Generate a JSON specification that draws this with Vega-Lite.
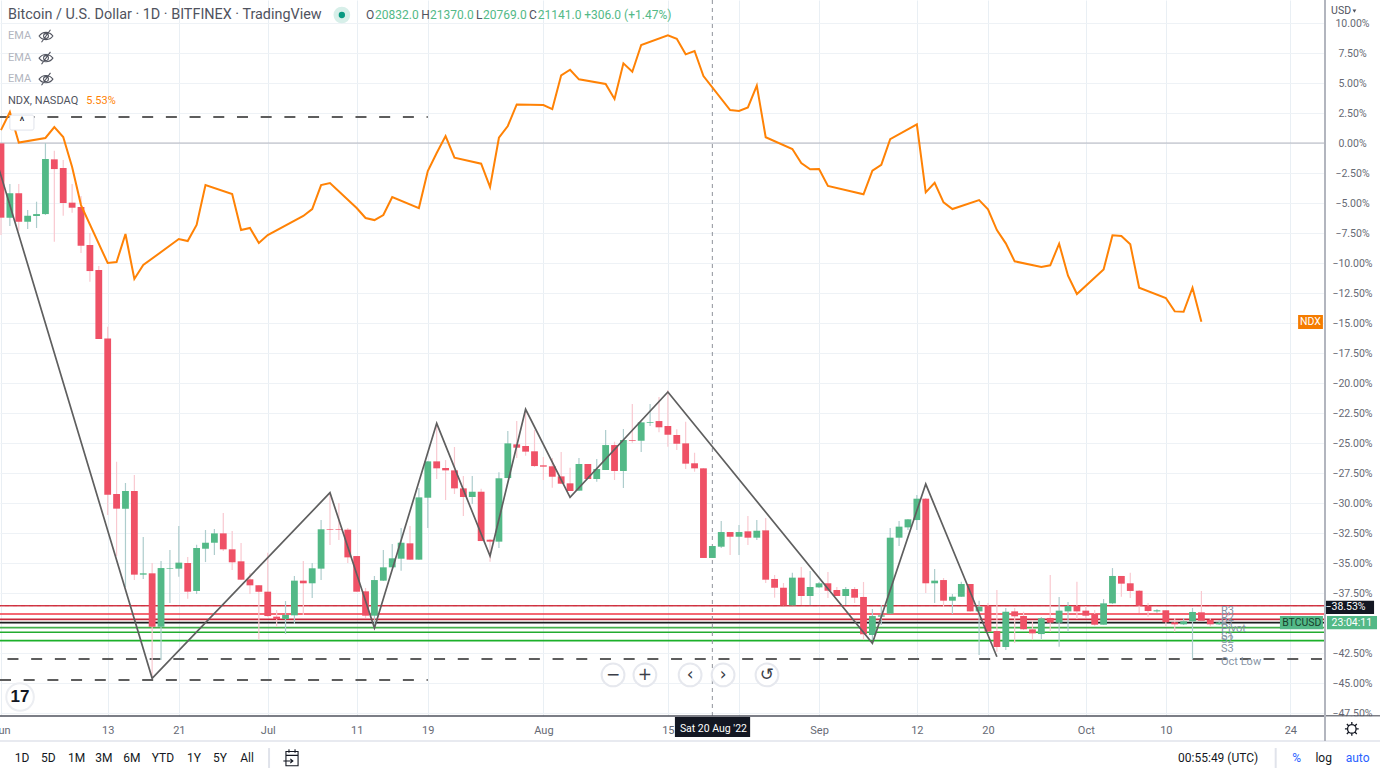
{
"$schema":"https://vega.github.io/schema/vega-lite/v6.json",
"autosize":{"type":"none"},
"padding":{"left":0,"top":0,"right":55,"bottom":60},
"width":1325,"height":716,
"background":"#ffffff",
"config":{"view":{"stroke":null},"font":"Roboto"},
"datasets":{
"candles":[
{"date":"2022-06-01","open":-0.03,"high":0,"low":-7.67,"close":-6.22},
{"date":"2022-06-02","open":-6.22,"high":-3.42,"low":-6.92,"close":-4.19},
{"date":"2022-06-03","open":-4.19,"high":-3.42,"low":-7.31,"close":-6.56},
{"date":"2022-06-04","open":-6.56,"high":-5.58,"low":-7.17,"close":-6.06},
{"date":"2022-06-05","open":-6.08,"high":-4.89,"low":-7.08,"close":-5.92},
{"date":"2022-06-06","open":-5.92,"high":0,"low":-6,"close":-1.33},
{"date":"2022-06-07","open":-1.36,"high":-0.64,"low":-8.22,"close":-2.17},
{"date":"2022-06-08","open":-2.08,"high":-1.42,"low":-6.06,"close":-5},
{"date":"2022-06-09","open":-4.97,"high":-3.42,"low":-5.81,"close":-5.39},
{"date":"2022-06-10","open":-5.33,"high":-4.42,"low":-9.17,"close":-8.56},
{"date":"2022-06-11","open":-8.5,"high":-7.5,"low":-11.56,"close":-10.67},
{"date":"2022-06-12","open":-10.58,"high":-10.25,"low":-16.33,"close":-16.33},
{"date":"2022-06-13","open":-16.28,"high":-15.31,"low":-31,"close":-29.31},
{"date":"2022-06-14","open":-29.25,"high":-26.56,"low":-34.42,"close":-30.47},
{"date":"2022-06-15","open":-30.47,"high":-28.33,"low":-37,"close":-29},
{"date":"2022-06-16","open":-29,"high":-27.67,"low":-36.42,"close":-35.97},
{"date":"2022-06-17","open":-35.97,"high":-32.83,"low":-36.33,"close":-35.86},
{"date":"2022-06-18","open":-35.86,"high":-35,"low":-44.58,"close":-40.31},
{"date":"2022-06-19","open":-40.31,"high":-34.83,"low":-43.08,"close":-35.42},
{"date":"2022-06-20","open":-35.47,"high":-33.92,"low":-38.33,"close":-35.42},
{"date":"2022-06-21","open":-35.47,"high":-31.92,"low":-36.14,"close":-34.97},
{"date":"2022-06-22","open":-35,"high":-34.5,"low":-37.97,"close":-37.39},
{"date":"2022-06-23","open":-37.33,"high":-33.47,"low":-37.58,"close":-33.75},
{"date":"2022-06-24","open":-33.81,"high":-32.25,"low":-34.92,"close":-33.31},
{"date":"2022-06-25","open":-33.31,"high":-32.17,"low":-34.33,"close":-32.53},
{"date":"2022-06-26","open":-32.53,"high":-30.83,"low":-34,"close":-33.86},
{"date":"2022-06-27","open":-33.86,"high":-32.33,"low":-35.58,"close":-34.94},
{"date":"2022-06-28","open":-34.86,"high":-33.33,"low":-36.42,"close":-36.39},
{"date":"2022-06-29","open":-36.36,"high":-35.83,"low":-37.58,"close":-36.86},
{"date":"2022-06-30","open":-36.86,"high":-36.83,"low":-41.42,"close":-37.39},
{"date":"2022-07-01","open":-37.39,"high":-34.14,"low":-39.47,"close":-39.42},
{"date":"2022-07-02","open":-39.47,"high":-38.92,"low":-40.31,"close":-39.67},
{"date":"2022-07-03","open":-39.67,"high":-38.17,"low":-40.92,"close":-39.33},
{"date":"2022-07-04","open":-39.36,"high":-36.08,"low":-40.08,"close":-36.47},
{"date":"2022-07-05","open":-36.47,"high":-34.83,"low":-39.33,"close":-36.69},
{"date":"2022-07-06","open":-36.69,"high":-35,"low":-37.92,"close":-35.44},
{"date":"2022-07-07","open":-35.47,"high":-31.42,"low":-36.42,"close":-32.19},
{"date":"2022-07-08","open":-32.17,"high":-29.17,"low":-33.5,"close":-32.22},
{"date":"2022-07-09","open":-32.17,"high":-30,"low":-33.08,"close":-32.22},
{"date":"2022-07-10","open":-32.22,"high":-32.08,"low":-35,"close":-34.53},
{"date":"2022-07-11","open":-34.42,"high":-34.42,"low":-37.39,"close":-37.39},
{"date":"2022-07-12","open":-37.36,"high":-37.08,"low":-39.58,"close":-39.39},
{"date":"2022-07-13","open":-39.39,"high":-36.08,"low":-40.42,"close":-36.42},
{"date":"2022-07-14","open":-36.47,"high":-33.92,"low":-36.5,"close":-35.36},
{"date":"2022-07-15","open":-35.36,"high":-33.42,"low":-35.36,"close":-34.61},
{"date":"2022-07-16","open":-34.64,"high":-32.08,"low":-35.64,"close":-33.31},
{"date":"2022-07-17","open":-33.36,"high":-31.92,"low":-34.75,"close":-34.72},
{"date":"2022-07-18","open":-34.72,"high":-28.75,"low":-34.75,"close":-29.53},
{"date":"2022-07-19","open":-29.56,"high":-26.5,"low":-32.08,"close":-26.53},
{"date":"2022-07-20","open":-26.53,"high":-23.33,"low":-28,"close":-27.11},
{"date":"2022-07-21","open":-27.08,"high":-26.42,"low":-29.75,"close":-27.28},
{"date":"2022-07-22","open":-27.28,"high":-25.33,"low":-29.25,"close":-28.78},
{"date":"2022-07-23","open":-28.78,"high":-27.75,"low":-31.08,"close":-29.5},
{"date":"2022-07-24","open":-29.5,"high":-27.75,"low":-30.08,"close":-29.06},
{"date":"2022-07-25","open":-29.06,"high":-28.81,"low":-33.17,"close":-33.17},
{"date":"2022-07-26","open":-33.06,"high":-33,"low":-34.89,"close":-33.22},
{"date":"2022-07-27","open":-33.22,"high":-27.44,"low":-33.75,"close":-27.94},
{"date":"2022-07-28","open":-27.92,"high":-24,"low":-27.92,"close":-25.03},
{"date":"2022-07-29","open":-25.11,"high":-23.17,"low":-26.25,"close":-25.39},
{"date":"2022-07-30","open":-25.25,"high":-22.25,"low":-26.06,"close":-25.72},
{"date":"2022-07-31","open":-25.69,"high":-23.92,"low":-27,"close":-26.92},
{"date":"2022-08-01","open":-26.86,"high":-26.17,"low":-28.08,"close":-26.97},
{"date":"2022-08-02","open":-26.94,"high":-26.25,"low":-28.72,"close":-27.81},
{"date":"2022-08-03","open":-27.78,"high":-25.75,"low":-28.42,"close":-28.39},
{"date":"2022-08-04","open":-28.36,"high":-27.06,"low":-29,"close":-29},
{"date":"2022-08-05","open":-28.97,"high":-26.25,"low":-29,"close":-26.75},
{"date":"2022-08-06","open":-26.75,"high":-26.75,"low":-28,"close":-28},
{"date":"2022-08-07","open":-28,"high":-26.33,"low":-28.22,"close":-27.17},
{"date":"2022-08-08","open":-27.25,"high":-23.92,"low":-27.25,"close":-25.17},
{"date":"2022-08-09","open":-25.17,"high":-24.89,"low":-28.08,"close":-27.33},
{"date":"2022-08-10","open":-27.33,"high":-23.83,"low":-28.75,"close":-24.75},
{"date":"2022-08-11","open":-24.75,"high":-21.75,"low":-24.97,"close":-24.81},
{"date":"2022-08-12","open":-24.81,"high":-23.25,"low":-25.75,"close":-23.28},
{"date":"2022-08-13","open":-23.31,"high":-21.75,"low":-23.58,"close":-23.25},
{"date":"2022-08-14","open":-23.17,"high":-21.17,"low":-24.11,"close":-23.69},
{"date":"2022-08-15","open":-23.58,"high":-20.58,"low":-25.31,"close":-24.31},
{"date":"2022-08-16","open":-24.33,"high":-23.86,"low":-25.58,"close":-25.06},
{"date":"2022-08-17","open":-25.03,"high":-23.22,"low":-27.17,"close":-26.72},
{"date":"2022-08-18","open":-26.69,"high":-25.81,"low":-27.39,"close":-27.11},
{"date":"2022-08-19","open":-27.11,"high":-27.08,"low":-34.58,"close":-34.58},
{"date":"2022-08-20","open":-34.58,"high":-33.58,"low":-34.58,"close":-33.58},
{"date":"2022-08-21","open":-33.64,"high":-31.5,"low":-33.75,"close":-32.42},
{"date":"2022-08-22","open":-32.42,"high":-32.42,"low":-34.33,"close":-32.81},
{"date":"2022-08-23","open":-32.81,"high":-31.83,"low":-34.33,"close":-32.42},
{"date":"2022-08-24","open":-32.36,"high":-31.08,"low":-33.5,"close":-32.89},
{"date":"2022-08-25","open":-32.89,"high":-31.42,"low":-33.08,"close":-32.31},
{"date":"2022-08-26","open":-32.28,"high":-31.25,"low":-36.67,"close":-36.39},
{"date":"2022-08-27","open":-36.33,"high":-36,"low":-37.89,"close":-37.06},
{"date":"2022-08-28","open":-37.06,"high":-36.67,"low":-38.53,"close":-38.53},
{"date":"2022-08-29","open":-38.53,"high":-35.81,"low":-38.53,"close":-36.22},
{"date":"2022-08-30","open":-36.22,"high":-35.33,"low":-38.5,"close":-37.75},
{"date":"2022-08-31","open":-37.75,"high":-35.67,"low":-38.5,"close":-37},
{"date":"2022-09-01","open":-37.03,"high":-36.58,"low":-37.08,"close":-36.69},
{"date":"2022-09-02","open":-36.69,"high":-35.75,"low":-37.92,"close":-37.31},
{"date":"2022-09-03","open":-37.25,"high":-37,"low":-37.75,"close":-37.75},
{"date":"2022-09-04","open":-37.75,"high":-37,"low":-38.5,"close":-37.17},
{"date":"2022-09-05","open":-37.17,"high":-37,"low":-38.33,"close":-37.89},
{"date":"2022-09-06","open":-37.83,"high":-36.58,"low":-41.42,"close":-40.94},
{"date":"2022-09-07","open":-41,"high":-38.83,"low":-41.42,"close":-39.42},
{"date":"2022-09-08","open":-39.47,"high":-38.5,"low":-40.17,"close":-39.36},
{"date":"2022-09-09","open":-39.22,"high":-32.08,"low":-39.22,"close":-32.89},
{"date":"2022-09-10","open":-32.89,"high":-31.5,"low":-33.58,"close":-31.97},
{"date":"2022-09-11","open":-32.03,"high":-31.33,"low":-32.25,"close":-31.36},
{"date":"2022-09-12","open":-31.42,"high":-29.33,"low":-32.25,"close":-29.64},
{"date":"2022-09-13","open":-29.64,"high":-29.58,"low":-37.5,"close":-36.69},
{"date":"2022-09-14","open":-36.69,"high":-35.5,"low":-38.33,"close":-36.47},
{"date":"2022-09-15","open":-36.42,"high":-36.25,"low":-38.67,"close":-38.14},
{"date":"2022-09-16","open":-38.14,"high":-37.58,"low":-39.25,"close":-37.81},
{"date":"2022-09-17","open":-37.81,"high":-36.56,"low":-37.83,"close":-36.75},
{"date":"2022-09-18","open":-36.75,"high":-36.75,"low":-39.06,"close":-39.03},
{"date":"2022-09-19","open":-39.03,"high":-38.14,"low":-42.67,"close":-38.64},
{"date":"2022-09-20","open":-38.56,"high":-38.33,"low":-40.75,"close":-40.72},
{"date":"2022-09-21","open":-40.67,"high":-37.25,"low":-42.39,"close":-42},
{"date":"2022-09-22","open":-42,"high":-38.75,"low":-42.25,"close":-39.06},
{"date":"2022-09-23","open":-39.03,"high":-38.75,"low":-41.67,"close":-39.44},
{"date":"2022-09-24","open":-39.42,"high":-39.06,"low":-40.58,"close":-40.53},
{"date":"2022-09-25","open":-40.53,"high":-39.75,"low":-41.42,"close":-40.86},
{"date":"2022-09-26","open":-40.92,"high":-39.5,"low":-41.33,"close":-39.61},
{"date":"2022-09-27","open":-39.58,"high":-36,"low":-40.72,"close":-39.97},
{"date":"2022-09-28","open":-39.97,"high":-37.83,"low":-41.97,"close":-38.97},
{"date":"2022-09-29","open":-39.03,"high":-38.25,"low":-40.72,"close":-38.58},
{"date":"2022-09-30","open":-38.58,"high":-36.56,"low":-39.67,"close":-39.03},
{"date":"2022-10-01","open":-38.97,"high":-38.58,"low":-39.58,"close":-39.39},
{"date":"2022-10-02","open":-39.25,"high":-38.92,"low":-40.22,"close":-40.14},
{"date":"2022-10-03","open":-40.14,"high":-38,"low":-40.14,"close":-38.36},
{"date":"2022-10-04","open":-38.36,"high":-35.42,"low":-38.42,"close":-36.08},
{"date":"2022-10-05","open":-36.08,"high":-36.08,"low":-37.81,"close":-36.72},
{"date":"2022-10-06","open":-36.69,"high":-35.81,"low":-37.92,"close":-37.33},
{"date":"2022-10-07","open":-37.31,"high":-37.25,"low":-39.17,"close":-38.56},
{"date":"2022-10-08","open":-38.56,"high":-38.33,"low":-39.47,"close":-39},
{"date":"2022-10-09","open":-39.03,"high":-38.83,"low":-39.14,"close":-38.94},
{"date":"2022-10-10","open":-38.94,"high":-38.94,"low":-40.31,"close":-39.94},
{"date":"2022-10-11","open":-39.94,"high":-39.58,"low":-40.72,"close":-40.11},
{"date":"2022-10-12","open":-40.11,"high":-39.58,"low":-40.17,"close":-39.86},
{"date":"2022-10-13","open":-39.86,"high":-38.75,"low":-43,"close":-39.08},
{"date":"2022-10-14","open":-39.11,"high":-37.33,"low":-39.83,"close":-39.81},
{"date":"2022-10-15","open":-39.75,"high":-39.58,"low":-40.31,"close":-40.11},
{"date":"2022-10-16","open":-40.11,"high":-39.75,"low":-40.17,"close":-39.96}
],
"ndx":[
{"date":"2022-06-01","pct":1.08},{"date":"2022-06-02","pct":2.58},{"date":"2022-06-03","pct":0.04},{"date":"2022-06-06","pct":0.42},{"date":"2022-06-07","pct":1.33},{"date":"2022-06-08","pct":0.5},{"date":"2022-06-09","pct":-2},{"date":"2022-06-10","pct":-5.17},{"date":"2022-06-13","pct":-10},{"date":"2022-06-14","pct":-9.92},{"date":"2022-06-15","pct":-7.58},{"date":"2022-06-16","pct":-11.33},{"date":"2022-06-17","pct":-10.17},{"date":"2022-06-21","pct":-8},{"date":"2022-06-22","pct":-8.17},{"date":"2022-06-23","pct":-6.83},{"date":"2022-06-24","pct":-3.5},{"date":"2022-06-27","pct":-4.25},{"date":"2022-06-28","pct":-7.25},{"date":"2022-06-29","pct":-7.08},{"date":"2022-06-30","pct":-8.33},{"date":"2022-07-01","pct":-7.67},{"date":"2022-07-05","pct":-6.08},{"date":"2022-07-06","pct":-5.5},{"date":"2022-07-07","pct":-3.5},{"date":"2022-07-08","pct":-3.33},{"date":"2022-07-11","pct":-5.42},{"date":"2022-07-12","pct":-6.25},{"date":"2022-07-13","pct":-6.42},{"date":"2022-07-14","pct":-6},{"date":"2022-07-15","pct":-4.5},{"date":"2022-07-18","pct":-5.42},{"date":"2022-07-19","pct":-2.33},{"date":"2022-07-20","pct":-0.83},{"date":"2022-07-21","pct":0.58},{"date":"2022-07-22","pct":-1.22},{"date":"2022-07-25","pct":-1.72},{"date":"2022-07-26","pct":-3.67},{"date":"2022-07-27","pct":0.44},{"date":"2022-07-28","pct":1.42},{"date":"2022-07-29","pct":3.22},{"date":"2022-08-01","pct":3.17},{"date":"2022-08-02","pct":2.83},{"date":"2022-08-03","pct":5.64},{"date":"2022-08-04","pct":6.11},{"date":"2022-08-05","pct":5.31},{"date":"2022-08-08","pct":4.92},{"date":"2022-08-09","pct":3.67},{"date":"2022-08-10","pct":6.64},{"date":"2022-08-11","pct":5.94},{"date":"2022-08-12","pct":8.17},{"date":"2022-08-15","pct":8.97},{"date":"2022-08-16","pct":8.69},{"date":"2022-08-17","pct":7.39},{"date":"2022-08-18","pct":7.67},{"date":"2022-08-19","pct":5.58},{"date":"2022-08-22","pct":2.75},{"date":"2022-08-23","pct":2.67},{"date":"2022-08-24","pct":2.97},{"date":"2022-08-25","pct":4.78},{"date":"2022-08-26","pct":0.48},{"date":"2022-08-29","pct":-0.5},{"date":"2022-08-30","pct":-1.67},{"date":"2022-08-31","pct":-2.19},{"date":"2022-09-01","pct":-2.17},{"date":"2022-09-02","pct":-3.58},{"date":"2022-09-06","pct":-4.27},{"date":"2022-09-07","pct":-2.31},{"date":"2022-09-08","pct":-1.81},{"date":"2022-09-09","pct":0.33},{"date":"2022-09-12","pct":1.56},{"date":"2022-09-13","pct":-4.11},{"date":"2022-09-14","pct":-3.31},{"date":"2022-09-15","pct":-4.94},{"date":"2022-09-16","pct":-5.5},{"date":"2022-09-19","pct":-4.75},{"date":"2022-09-20","pct":-5.53},{"date":"2022-09-21","pct":-7.25},{"date":"2022-09-22","pct":-8.36},{"date":"2022-09-23","pct":-9.86},{"date":"2022-09-26","pct":-10.33},{"date":"2022-09-27","pct":-10.19},{"date":"2022-09-28","pct":-8.39},{"date":"2022-09-29","pct":-11.06},{"date":"2022-09-30","pct":-12.58},{"date":"2022-10-03","pct":-10.53},{"date":"2022-10-04","pct":-7.69},{"date":"2022-10-05","pct":-7.75},{"date":"2022-10-06","pct":-8.44},{"date":"2022-10-07","pct":-12.06},{"date":"2022-10-10","pct":-12.92},{"date":"2022-10-11","pct":-14.03},{"date":"2022-10-12","pct":-14.06},{"date":"2022-10-13","pct":-12.06},{"date":"2022-10-14","pct":-14.89}
],
"zigzag":[
{"date":"2022-05-31","pct":-0.25},{"date":"2022-06-18","pct":-44.61},{"date":"2022-07-08","pct":-29.14},{"date":"2022-07-13","pct":-40.42},{"date":"2022-07-20","pct":-23.36},{"date":"2022-07-26","pct":-34.42},{"date":"2022-07-30","pct":-22.19},{"date":"2022-08-04","pct":-29.53},{"date":"2022-08-15","pct":-20.75},{"date":"2022-09-07","pct":-41.69},{"date":"2022-09-13","pct":-28.42},{"date":"2022-09-21","pct":-42.81}
],
"levels":[
{"pct":-38.56,"tone":"R3"},{"pct":-39.25,"tone":"R2"},{"pct":-39.69,"tone":"R1"},{"pct":-39.97,"tone":"Pivot"},{"pct":-40.39,"tone":"S1"},{"pct":-40.77,"tone":"S2"},{"pct":-41.47,"tone":"S3"}
],
"dashes":[
{"date":"2022-05-31T21:18:00Z","end":"2022-07-19T00:00:00Z","pct":2.17},
{"date":"2022-05-31T21:18:00Z","end":"2022-07-19T00:00:00Z","pct":-44.75},
{"date":"2022-06-01T17:30:00Z","end":"2022-10-27T21:36:00Z","pct":-43}
],
"hlines":[
{"date":"2022-05-31T21:18:00Z","end":"2022-11-03T02:00:00Z","pct":-47.75,"tone":"axisline"},
{"date":"2022-05-31T21:18:00Z","end":"2022-11-03T02:00:00Z","pct":-49.83,"tone":"pale"}
],
"vlines":[
{"date":"2022-10-27T21:36:00Z","pct":11.92,"bottom":-49.83,"tone":"rule"},
{"date":"2022-07-01T03:30:00Z","pct":-50.42,"bottom":-52.08,"tone":"pale"},
{"date":"2022-10-22T08:30:00Z","pct":-50.42,"bottom":-52.08,"tone":"pale"}
],
"boxes":[
{"date":"2022-10-28T00:00:00Z","end":"2022-11-03T02:00:00Z","pct":-47.8,"bottom":-49.7,"tone":"white"},
{"date":"2022-08-15T19:00:00Z","end":"2022-08-24T06:00:00Z","pct":-47.83,"bottom":-49.5,"tone":"dark"},
{"date":"2022-10-24T21:00:00Z","end":"2022-10-27T16:00:00Z","pct":-14.33,"bottom":-15.5,"tone":"orangebox"},
{"date":"2022-10-22T20:00:00Z","end":"2022-10-27T16:00:00Z","pct":-39.42,"bottom":-40.53,"tone":"green"},
{"date":"2022-10-28T03:00:00Z","end":"2022-11-02T18:00:00Z","pct":-39.42,"bottom":-40.53,"tone":"green"},
{"date":"2022-10-27T21:36:00Z","end":"2022-11-02T10:00:00Z","pct":-38.14,"bottom":-39.25,"tone":"dark"}
],
"titleText":[
{"date":"2022-06-01T19:00:00Z","pct":10.67,"label":"Bitcoin / U.S. Dollar · 1D · BITFINEX · TradingView"}
],
"header":[
{"date":"2022-07-12T01:00:00Z","pct":10.67,"label":"O","tone":"ink"},
{"date":"2022-07-13T01:30:00Z","pct":10.67,"label":"20832.0","tone":"green"},
{"date":"2022-07-18T06:00:00Z","pct":10.67,"label":"H","tone":"ink"},
{"date":"2022-07-19T06:00:00Z","pct":10.67,"label":"21370.0","tone":"green"},
{"date":"2022-07-24T10:00:00Z","pct":10.67,"label":"L","tone":"ink"},
{"date":"2022-07-25T05:00:00Z","pct":10.67,"label":"20769.0","tone":"green"},
{"date":"2022-07-30T09:00:00Z","pct":10.67,"label":"C","tone":"ink"},
{"date":"2022-07-31T09:00:00Z","pct":10.67,"label":"21141.0","tone":"green"},
{"date":"2022-08-05T14:00:00Z","pct":10.67,"label":"+306.0 (+1.47%)","tone":"green"}
],
"legendText":[
{"date":"2022-06-01T19:00:00Z","pct":8.92,"label":"EMA","tone":"muted"},
{"date":"2022-06-01T19:00:00Z","pct":7.08,"label":"EMA","tone":"muted"},
{"date":"2022-06-01T19:00:00Z","pct":5.33,"label":"EMA","tone":"muted"},
{"date":"2022-06-01T19:00:00Z","pct":3.5,"label":"NDX, NASDAQ","tone":"ink"},
{"date":"2022-06-10T14:00:00Z","pct":3.5,"label":"5.53%","tone":"orange"}
],
"levelLabels":[
{"date":"2022-10-16T05:00:00Z","pct":-38.97,"label":"R3"},
{"date":"2022-10-16T05:00:00Z","pct":-39.56,"label":"R2"},
{"date":"2022-10-16T05:00:00Z","pct":-40,"label":"R1"},
{"date":"2022-10-16T05:00:00Z","pct":-40.5,"label":"Pivot"},
{"date":"2022-10-16T05:00:00Z","pct":-41.14,"label":"S1"},
{"date":"2022-10-16T05:00:00Z","pct":-41.42,"label":"S2"},
{"date":"2022-10-16T05:00:00Z","pct":-42.17,"label":"S3"},
{"date":"2022-10-16T05:00:00Z","pct":-43.22,"label":"Oct Low"}
],
"toolbar":[
{"date":"2022-06-03T09:00:00Z","pct":-51.25,"label":"1D","tone":"black"},
{"date":"2022-06-06T08:00:00Z","pct":-51.25,"label":"5D","tone":"black"},
{"date":"2022-06-09T12:00:00Z","pct":-51.25,"label":"1M","tone":"black"},
{"date":"2022-06-12T14:00:00Z","pct":-51.25,"label":"3M","tone":"black"},
{"date":"2022-06-15T17:00:00Z","pct":-51.25,"label":"6M","tone":"black"},
{"date":"2022-06-19T05:00:00Z","pct":-51.25,"label":"YTD","tone":"black"},
{"date":"2022-06-22T17:00:00Z","pct":-51.25,"label":"1Y","tone":"black"},
{"date":"2022-06-25T15:00:00Z","pct":-51.25,"label":"5Y","tone":"black"},
{"date":"2022-06-28T16:00:00Z","pct":-51.25,"label":"All","tone":"black"},
{"date":"2022-10-15T21:00:00Z","pct":-51.25,"label":"00:55:49 (UTC)","tone":"black"},
{"date":"2022-10-24T17:00:00Z","pct":-51.25,"label":"%","tone":"blue"},
{"date":"2022-10-27T18:00:00Z","pct":-51.25,"label":"log","tone":"black"},
{"date":"2022-10-31T13:30:00Z","pct":-51.25,"label":"auto","tone":"blue"},
{"date":"2022-06-03T09:00:00Z","pct":1.75,"label":"^","tone":"black"}
],
"boxText":[
{"date":"2022-08-20T03:00:00Z","pct":-48.83,"label":"Sat 20 Aug '22","tone":"white"},
{"date":"2022-10-26T06:30:00Z","pct":-14.92,"label":"NDX","tone":"white"},
{"date":"2022-10-25T07:00:00Z","pct":-39.98,"label":"BTCUSD","tone":"symbol"},
{"date":"2022-10-30T22:00:00Z","pct":-39.98,"label":"23:04:11","tone":"white"},
{"date":"2022-10-30T05:00:00Z","pct":-38.69,"label":"−38.53%","tone":"white"},
{"date":"2022-10-29T17:00:00Z","pct":11,"label":"USD","tone":"ink"}
],
"buttons":[
{"date":"2022-08-08T20:00:00Z","pct":-44.33,"label":"−"},
{"date":"2022-08-12T10:00:00Z","pct":-44.33,"label":"+"},
{"date":"2022-08-17T12:00:00Z","pct":-44.33,"label":"‹"},
{"date":"2022-08-21T05:00:00Z","pct":-44.33,"label":"›"},
{"date":"2022-08-26T03:30:00Z","pct":-44.33,"label":"↺"}
],
"logo":[{"date":"2022-06-03T03:30:00Z","pct":-46.17,"label":"17"}],
"collapse":[{"date":"2022-06-02T00:00:00Z","end":"2022-06-04T17:00:00Z","pct":2.33,"bottom":1.08}],
"eyes":[{"date":"2022-06-06T01:30:00Z","pct":8.92},{"date":"2022-06-06T01:30:00Z","pct":7.08},{"date":"2022-06-06T01:30:00Z","pct":5.33}],
"gear":[{"date":"2022-10-30T22:00:00Z","pct":-48.83}],
"calendar":[{"date":"2022-07-03T17:30:00Z","pct":-51.25}],
"live":[{"date":"2022-07-09T08:00:00Z","pct":10.67}],
"caret":[{"date":"2022-10-31T05:00:00Z","pct":11}],
"crossV":[{"date":"2022-08-20"}],
"crossH":[{"pct":-38.62}],
"zero":[{"pct":0}]
},
"encoding":{
"x":{"field":"date","type":"temporal","title":null,
 "scale":{"type":"utc","domain":[1654032096000,1666906560000],"nice":false,"padding":0},
 "axis":{"values":[1654041600000,1655078400000,1655769600000,1656633600000,1657497600000,1658188800000,1659312000000,1660521600000,1661212800000,1661990400000,1662940800000,1663632000000,1664582400000,1665360000000,1666569600000],
  "labelExpr":"utcdate(datum.value)===1 ? utcFormat(datum.value,'%b') : utcFormat(datum.value,'%-d')",
  "grid":true,"gridColor":"#e9eff4","gridWidth":1,"ticks":false,"domain":false,"labelOverlap":false,"labelFlush":false,"labelBound":false,
  "labelFont":"Roboto","labelFontSize":11,"labelColor":"#666974","labelPadding":8,"labelAngle":0}},
"y":{"field":"pct","type":"quantitative","title":null,
 "scale":{"domain":[-47.75,11.92],"nice":false,"zero":false},
 "axis":{"orient":"right","values":[10,7.5,5,2.5,0,-2.5,-5,-7.5,-10,-12.5,-15,-17.5,-20,-22.5,-25,-27.5,-30,-32.5,-35,-37.5,-40,-42.5,-45,-47.5],
  "labelExpr":"replace(format(datum.value,'.2f'),'-','−')+'%'",
  "grid":true,"gridColor":"#eef2f6","gridWidth":1,"ticks":false,"domain":false,"labelOverlap":false,"labelFlush":false,"labelBound":false,
  "labelFont":"Roboto","labelFontSize":10.5,"labelColor":"#666974","labelAlign":"center","labelPadding":27}}
},
"layer":[
{"data":{"name":"zero"},"mark":{"type":"rule","stroke":"#b2b5be","strokeWidth":1},"encoding":{"x":null}},
{"data":{"name":"levels"},"mark":{"type":"rule","strokeWidth":1.7},"encoding":{"x":null,
 "color":{"field":"tone","legend":null,"scale":{"domain":["R3","R2","R1","Pivot","S1","S2","S3","axisline","pale","rule","white","dark","orangebox","green","ink","muted","orange","black","blue","symbol"],"range":["#d0303f","#f23645","#c8283a","#1e1e1e","#43b04a","#22ab2f","#1cb02a","#50535e","#e0e3eb","#b2b5be","#ffffff","#131722","#f57c00","#53b987","#50535e","#b2b5be","#ff8205","#131722","#2962ff","#173f2d"]}}}},
{"data":{"name":"crossH"},"mark":{"type":"rule","stroke":"#e3a3ab","strokeWidth":1,"strokeDash":[4,4]},"encoding":{"x":null}},
{"data":{"name":"dashes"},"mark":{"type":"rule","stroke":"#5d5d5d","strokeWidth":2,"strokeDash":[11,12.7],"clip":true},"encoding":{"x2":{"field":"end"}}},
{"data":{"name":"candles"},"mark":{"type":"rule","strokeWidth":1.2},"encoding":{
 "y":{"field":"low"},"y2":{"field":"high"},
 "color":{"condition":{"test":"datum.close>=datum.open","value":"#aecdcd"},"value":"#f9c9d0"}}},
{"data":{"name":"crossV"},"mark":{"type":"rule","stroke":"#8f929b","strokeWidth":1,"strokeDash":[4,4]},"encoding":{"y":null}},
{"data":{"name":"candles"},"mark":{"type":"bar","size":6.8},"encoding":{
 "y":{"field":"open"},"y2":{"field":"close"},
 "color":{"condition":{"test":"datum.close>=datum.open","value":"#53b987"},"value":"#ef5166"}}},
{"data":{"name":"ndx"},"mark":{"type":"line","stroke":"#ff8205","strokeWidth":2,"strokeJoin":"miter"}},
{"data":{"name":"zigzag"},"mark":{"type":"line","stroke":"#5f5f5f","strokeWidth":1.7,"clip":true}},
{"data":{"name":"hlines"},"mark":{"type":"rule","strokeWidth":1.5},"encoding":{"x2":{"field":"end"},
 "color":{"field":"tone","legend":null,"scale":{"domain":["R3","R2","R1","Pivot","S1","S2","S3","axisline","pale","rule","white","dark","orangebox","green","ink","muted","orange","black","blue","symbol"],"range":["#d0303f","#f23645","#c8283a","#1e1e1e","#43b04a","#22ab2f","#1cb02a","#50535e","#e0e3eb","#b2b5be","#ffffff","#131722","#f57c00","#53b987","#50535e","#b2b5be","#ff8205","#131722","#2962ff","#173f2d"]}}}},
{"data":{"name":"boxes"},"mark":{"type":"rect"},"encoding":{"x2":{"field":"end"},"y2":{"field":"bottom"},
 "color":{"field":"tone","legend":null,"scale":{"domain":["R3","R2","R1","Pivot","S1","S2","S3","axisline","pale","rule","white","dark","orangebox","green","ink","muted","orange","black","blue","symbol"],"range":["#d0303f","#f23645","#c8283a","#1e1e1e","#43b04a","#22ab2f","#1cb02a","#50535e","#e0e3eb","#b2b5be","#ffffff","#131722","#f57c00","#53b987","#50535e","#b2b5be","#ff8205","#131722","#2962ff","#173f2d"]}}}},
{"data":{"name":"vlines"},"mark":{"type":"rule","strokeWidth":2},"encoding":{"y2":{"field":"bottom"},
 "color":{"field":"tone","legend":null,"scale":{"domain":["R3","R2","R1","Pivot","S1","S2","S3","axisline","pale","rule","white","dark","orangebox","green","ink","muted","orange","black","blue","symbol"],"range":["#d0303f","#f23645","#c8283a","#1e1e1e","#43b04a","#22ab2f","#1cb02a","#50535e","#e0e3eb","#b2b5be","#ffffff","#131722","#f57c00","#53b987","#50535e","#b2b5be","#ff8205","#131722","#2962ff","#173f2d"]}}}},
{"data":{"name":"collapse"},"mark":{"type":"rect","fill":"#ffffff","stroke":"#e0e3eb","cornerRadius":2},"encoding":{"x2":{"field":"end"},"y2":{"field":"bottom"}}},
{"data":{"name":"live"},"mark":{"type":"point","filled":true,"fill":"#d7efe9","opacity":1,"size":280}},
{"data":{"name":"live"},"mark":{"type":"point","filled":true,"fill":"#089981","opacity":1,"size":40}},
{"data":{"name":"eyes"},"mark":{"type":"point","filled":false,"stroke":"#50535e","strokeWidth":1.1,"opacity":1,"size":190,"shape":"M-1,0C-0.5,-0.7 0.5,-0.7 1,0C0.5,0.7 -0.5,0.7 -1,0ZM-0.65,0.9L0.65,-0.9M0.35,0A0.35,0.35 0 1 1 -0.35,0A0.35,0.35 0 1 1 0.35,0Z"}},
{"data":{"name":"gear"},"mark":{"type":"point","filled":false,"stroke":"#131722","strokeWidth":1.3,"opacity":1,"size":190,"shape":"M0.62,0A0.62,0.62 0 1 1 -0.62,0A0.62,0.62 0 1 1 0.62,0ZM0,-0.62L0,-1M0,0.62L0,1M-0.62,0L-1,0M0.62,0L1,0M-0.44,-0.44L-0.72,-0.72M0.44,-0.44L0.72,-0.72M-0.44,0.44L-0.72,0.72M0.44,0.44L0.72,0.72"}},
{"data":{"name":"calendar"},"mark":{"type":"point","filled":false,"stroke":"#131722","strokeWidth":1.1,"opacity":1,"size":300,"shape":"M-0.7,0.9L0.7,0.9L0.7,-0.75L-0.7,-0.75ZM-0.7,-0.3L0.7,-0.3M-0.35,-1L-0.35,-0.6M0.35,-1L0.35,-0.6M-1,0.35L0.1,0.35M-0.2,0.1L0.1,0.35L-0.2,0.6"}},
{"data":{"name":"caret"},"mark":{"type":"point","filled":true,"fill":"#50535e","opacity":1,"size":14,"shape":"triangle-down"}},
{"data":{"name":"buttons"},"mark":{"type":"point","filled":true,"fill":"#ffffff","stroke":"#e6e8ee","strokeWidth":2,"opacity":1,"size":520}},
{"data":{"name":"buttons"},"mark":{"type":"text","font":"DejaVu Sans","fontSize":17,"color":"#3b3e48","baseline":"middle"},"encoding":{"text":{"field":"label"}}},
{"data":{"name":"logo"},"mark":{"type":"point","filled":true,"fill":"#ffffff","stroke":"#eceef2","strokeWidth":2,"opacity":1,"size":760}},
{"data":{"name":"logo"},"mark":{"type":"text","font":"Liberation Sans","fontWeight":"bold","fontSize":17,"color":"#131722","baseline":"middle"},"encoding":{"text":{"field":"label"}}},
{"data":{"name":"titleText"},"mark":{"type":"text","align":"left","baseline":"middle","fontSize":14.4,"font":"Roboto","color":"#50535e"},"encoding":{"text":{"field":"label"}}},
{"data":{"name":"header"},"mark":{"type":"text","align":"left","baseline":"middle","fontSize":12,"font":"Roboto"},"encoding":{"text":{"field":"label"},
 "color":{"field":"tone","legend":null,"scale":{"domain":["R3","R2","R1","Pivot","S1","S2","S3","axisline","pale","rule","white","dark","orangebox","green","ink","muted","orange","black","blue","symbol"],"range":["#d0303f","#f23645","#c8283a","#1e1e1e","#43b04a","#22ab2f","#1cb02a","#50535e","#e0e3eb","#b2b5be","#ffffff","#131722","#f57c00","#53b987","#50535e","#b2b5be","#ff8205","#131722","#2962ff","#173f2d"]}}}},
{"data":{"name":"legendText"},"mark":{"type":"text","align":"left","baseline":"middle","fontSize":11,"font":"Roboto"},"encoding":{"text":{"field":"label"},
 "color":{"field":"tone","legend":null,"scale":{"domain":["R3","R2","R1","Pivot","S1","S2","S3","axisline","pale","rule","white","dark","orangebox","green","ink","muted","orange","black","blue","symbol"],"range":["#d0303f","#f23645","#c8283a","#1e1e1e","#43b04a","#22ab2f","#1cb02a","#50535e","#e0e3eb","#b2b5be","#ffffff","#131722","#f57c00","#53b987","#50535e","#b2b5be","#ff8205","#131722","#2962ff","#173f2d"]}}}},
{"data":{"name":"levelLabels"},"mark":{"type":"text","align":"left","baseline":"middle","fontSize":11,"font":"Roboto","color":"#8795a6"},"encoding":{"text":{"field":"label"}}},
{"data":{"name":"toolbar"},"mark":{"type":"text","align":"center","baseline":"middle","fontSize":12,"font":"Roboto"},"encoding":{"text":{"field":"label"},
 "color":{"field":"tone","legend":null,"scale":{"domain":["R3","R2","R1","Pivot","S1","S2","S3","axisline","pale","rule","white","dark","orangebox","green","ink","muted","orange","black","blue","symbol"],"range":["#d0303f","#f23645","#c8283a","#1e1e1e","#43b04a","#22ab2f","#1cb02a","#50535e","#e0e3eb","#b2b5be","#ffffff","#131722","#f57c00","#53b987","#50535e","#b2b5be","#ff8205","#131722","#2962ff","#173f2d"]}}}},
{"data":{"name":"boxText"},"mark":{"type":"text","align":"center","baseline":"middle","fontSize":10.5,"font":"Roboto"},"encoding":{"text":{"field":"label"},
 "color":{"field":"tone","legend":null,"scale":{"domain":["R3","R2","R1","Pivot","S1","S2","S3","axisline","pale","rule","white","dark","orangebox","green","ink","muted","orange","black","blue","symbol"],"range":["#d0303f","#f23645","#c8283a","#1e1e1e","#43b04a","#22ab2f","#1cb02a","#50535e","#e0e3eb","#b2b5be","#ffffff","#131722","#f57c00","#53b987","#50535e","#b2b5be","#ff8205","#131722","#2962ff","#173f2d"]}}}}
]
}
